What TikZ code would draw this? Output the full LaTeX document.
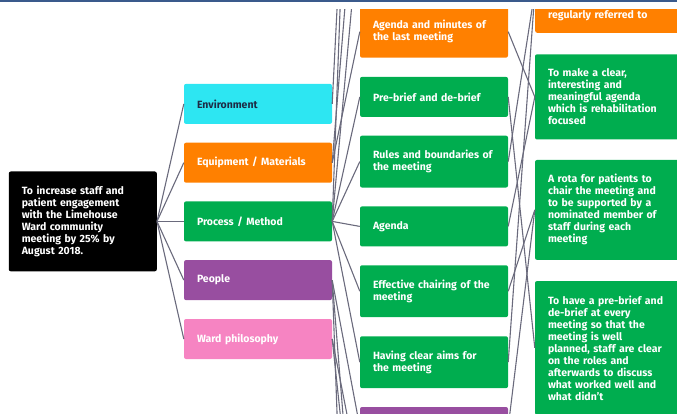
\documentclass[tikz,border=0pt]{standalone}
\usepackage{fontspec}
\setmainfont{Fira Sans}
\usetikzlibrary{positioning}
\definecolor{envcyan}{HTML}{2DE6F2}
\definecolor{envtext}{HTML}{1E2B45}
\definecolor{equiporange}{HTML}{FF8000}
\definecolor{procgreen}{HTML}{00AD4F}
\definecolor{peoplepurple}{HTML}{984EA0}
\definecolor{wardpink}{HTML}{F684C2}
\definecolor{linegray}{HTML}{6A6A7C}
\definecolor{topblue}{HTML}{3A5A8C}
\tikzset{
box/.style = {rectangle, rounded corners=2pt, text width=122pt, align=left, inner xsep=13pt, inner ysep=14.5pt, minimum height=40pt, text=white, font=\bfseries\fontsize{10.5}{12}\selectfont},
goal/.style = {box, fill=black},
driver/.style = {box, fill=procgreen},
idea/.style = {box, fill=procgreen},
link/.style = {draw=linegray, line width=1.1pt},
offpage/.style = {coordinate}
}

\begin{document}
\begin{tikzpicture}[x=1pt, y=-1pt, node distance=60pt]
    \useasboundingbox (0,0) rectangle (677,413);
    \draw [topblue, line width=1.5pt] (0,0.75) -- (677,0.75);
    \begin{scope}
    \clip (0,9) rectangle (677,413);
    % aim and primary drivers
    \node [goal] (aim) at (82.8,221.4) {To increase staff and\\ patient engagement\\ with the Limehouse\\ Ward community\\ meeting by 25\% by\\ August 2018.};
    \node [driver, right of=aim, node distance=175.2pt] (proc) {Process / Method};
    \node [driver, fill=equiporange, above of=proc, node distance=58.7pt] (equip) {Equipment / Materials};
    \node [driver, fill=envcyan, text=envtext, above of=equip, node distance=58.8pt] (env) {Environment};
    \node [driver, fill=peoplepurple, below of=proc, node distance=58.7pt] (people) {People};
    \node [driver, fill=wardpink, below of=people, node distance=58.9pt] (ward) {Ward philosophy};
    % secondary drivers
    \node [driver, right of=proc, node distance=176pt, yshift=-5pt] (agenda) {Agenda};
    \node [driver, above of=agenda, node distance=64.8pt] (rules) {Rules and boundaries of\\ the meeting};
    \node [driver, above of=rules, node distance=64.7pt] (prebrief) {Pre-brief and de-brief};
    \node [driver, fill=equiporange, above of=prebrief, node distance=65.2pt] (minutes) {Agenda and minutes of\\ the last meeting};
    \node [driver, below of=agenda, node distance=64.8pt] (chair) {Effective chairing of the\\ meeting};
    \node [driver, below of=chair, node distance=71pt] (aims) {Having clear aims for\\ the meeting};
    \node [driver, fill=peoplepurple, below of=aims, node distance=64.8pt] (lower) {};
    % change ideas
    \node [idea, right of=prebrief, node distance=175pt] (clearagenda) {To make a clear,\\ interesting and\\ meaningful agenda\\ which is rehabilitation\\ focused};
    \node [idea, below of=clearagenda, node distance=113pt] (rota) {A rota for patients to\\ chair the meeting and\\ to be supported by a\\ nominated member of\\ staff during each\\ meeting};
    \node [idea, below of=rota, node distance=138pt] (briefing) {To have a pre-brief and\\ de-brief at every\\ meeting so that the\\ meeting is well\\ planned, staff are clear\\ on the roles and\\ afterwards to discuss\\ what worked well and\\ what didn't};
    \node [idea, fill=equiporange, anchor=south west, text height=60pt, inner ysep=11.5pt] (referred) at (535,33) {regularly referred to};
    % ends beyond the frame
    \coordinate [offpage] (up1) at (339,-30);
    \coordinate [offpage] (up2) at (348,-30);
    \coordinate [offpage] (up3) at (341.5,-30);
    \coordinate [offpage] (up4) at (355,-30);
    \coordinate [offpage] (down1) at (338,440);
    \coordinate [offpage] (down2) at (345,440);
    \coordinate [offpage] (down3) at (343,440);
    \coordinate [offpage] (down4) at (352,440);
    % links
    \foreach \d in {env,equip,proc,people,ward}
        \draw [link] (aim.east) -- (\d.west);
    \draw [link] (env.east) -- (up1);
    \draw [link] (equip.east) -- (up2);
    \draw [link] (equip.east) -- (minutes.west);
    \draw [link] (proc.east) -- (up3);
    \draw [link] (proc.east) -- (up4);
    \foreach \s in {prebrief,rules,agenda,chair,aims}
        \draw [link] (proc.east) -- (\s.west);
    \draw [link] (people.east) -- (down1);
    \draw [link] (people.east) -- (down2);
    \draw [link] (people.east) -- (lower.west);
    \draw [link] (ward.east) -- (down3);
    \draw [link] (ward.east) -- (down4);
    \draw [link] (minutes.east) -- (clearagenda.west);
    \draw [link] (agenda.east) -- (clearagenda.west);
    \draw [link] (chair.east) -- (rota.west);
    \draw [link] (prebrief.east) -- (briefing.west);
    \draw [link] (rules.east) -- (referred.west);
    \draw [link] (aims.east) -- (referred.west);
    \draw [link] (lower.east) -- (rota.west);
    \end{scope}
\end{tikzpicture}
\end{document}
